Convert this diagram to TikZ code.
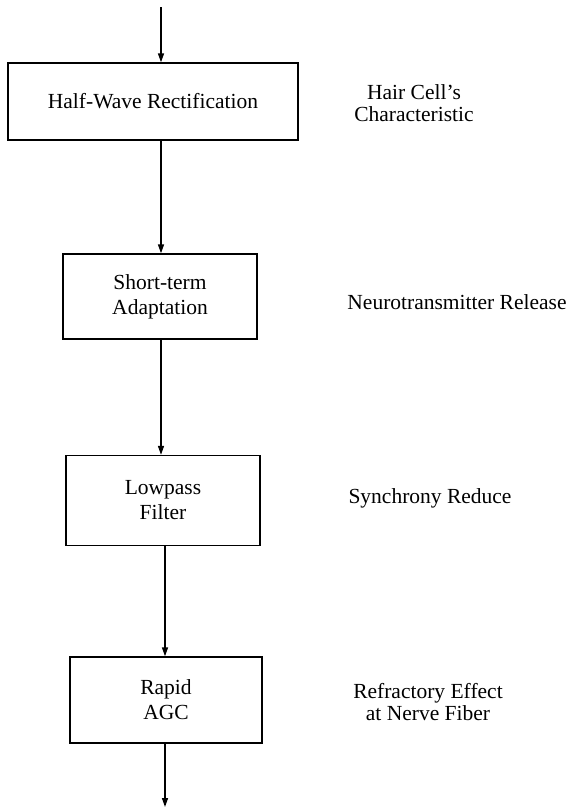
\documentclass[tikz,border=0pt]{standalone}
\usepackage{fontspec}
\setmainfont{Liberation Serif}
\usetikzlibrary{arrows.meta,positioning}

\tikzset{
  stagebox/.style={draw,line width=1.4pt,align=center,font=\fontsize{21.5}{25}\selectfont,inner sep=0pt},
  sidenote/.style={align=center,font=\fontsize{21.5}{22}\selectfont,inner sep=0pt},
  flow/.style={line width=1.4pt,-{Triangle[length=9pt,width=6pt]}}
}

\begin{document}
\begin{tikzpicture}[x=1pt,y=-1pt]
\useasboundingbox (0,0) rectangle (569,807);
\coordinate (in) at (161,7);
\coordinate (out) at (165,807);
\node[stagebox,minimum width=290pt,minimum height=77pt] (hwr) at (153,101.5) {Half-Wave Rectification};
\node[stagebox,minimum width=194pt,minimum height=85pt] (sta) at (160,296.5) {Short-term\\Adaptation};
\node[stagebox,minimum width=194pt,minimum height=90pt] (lpf) at (163,500.5) {Lowpass\\Filter};
\node[stagebox,minimum width=192pt,minimum height=86pt] (agc) at (166,700) {Rapid\\AGC};
% what each stage models
\node[sidenote] (hair) at (414,103) {Hair Cell's\\Characteristic};
\node[sidenote] (neuro) at (457,302) {Neurotransmitter Release};
\node[sidenote] (sync) at (430,498) {Synchrony Reduce};
\node[sidenote] (refr) at (428,702) {Refractory Effect\\at Nerve Fiber};
% signal path
\draw[flow] (in) -- (in |- hwr.north);
\draw[flow] (hwr.south -| in) -- (sta.north -| in);
\draw[flow] (sta.south -| in) -- (lpf.north -| in);
\draw[flow] (lpf.south -| out) -- (agc.north -| out);
\draw[flow] (agc.south -| out) -- (out);
\end{tikzpicture}
\end{document}
